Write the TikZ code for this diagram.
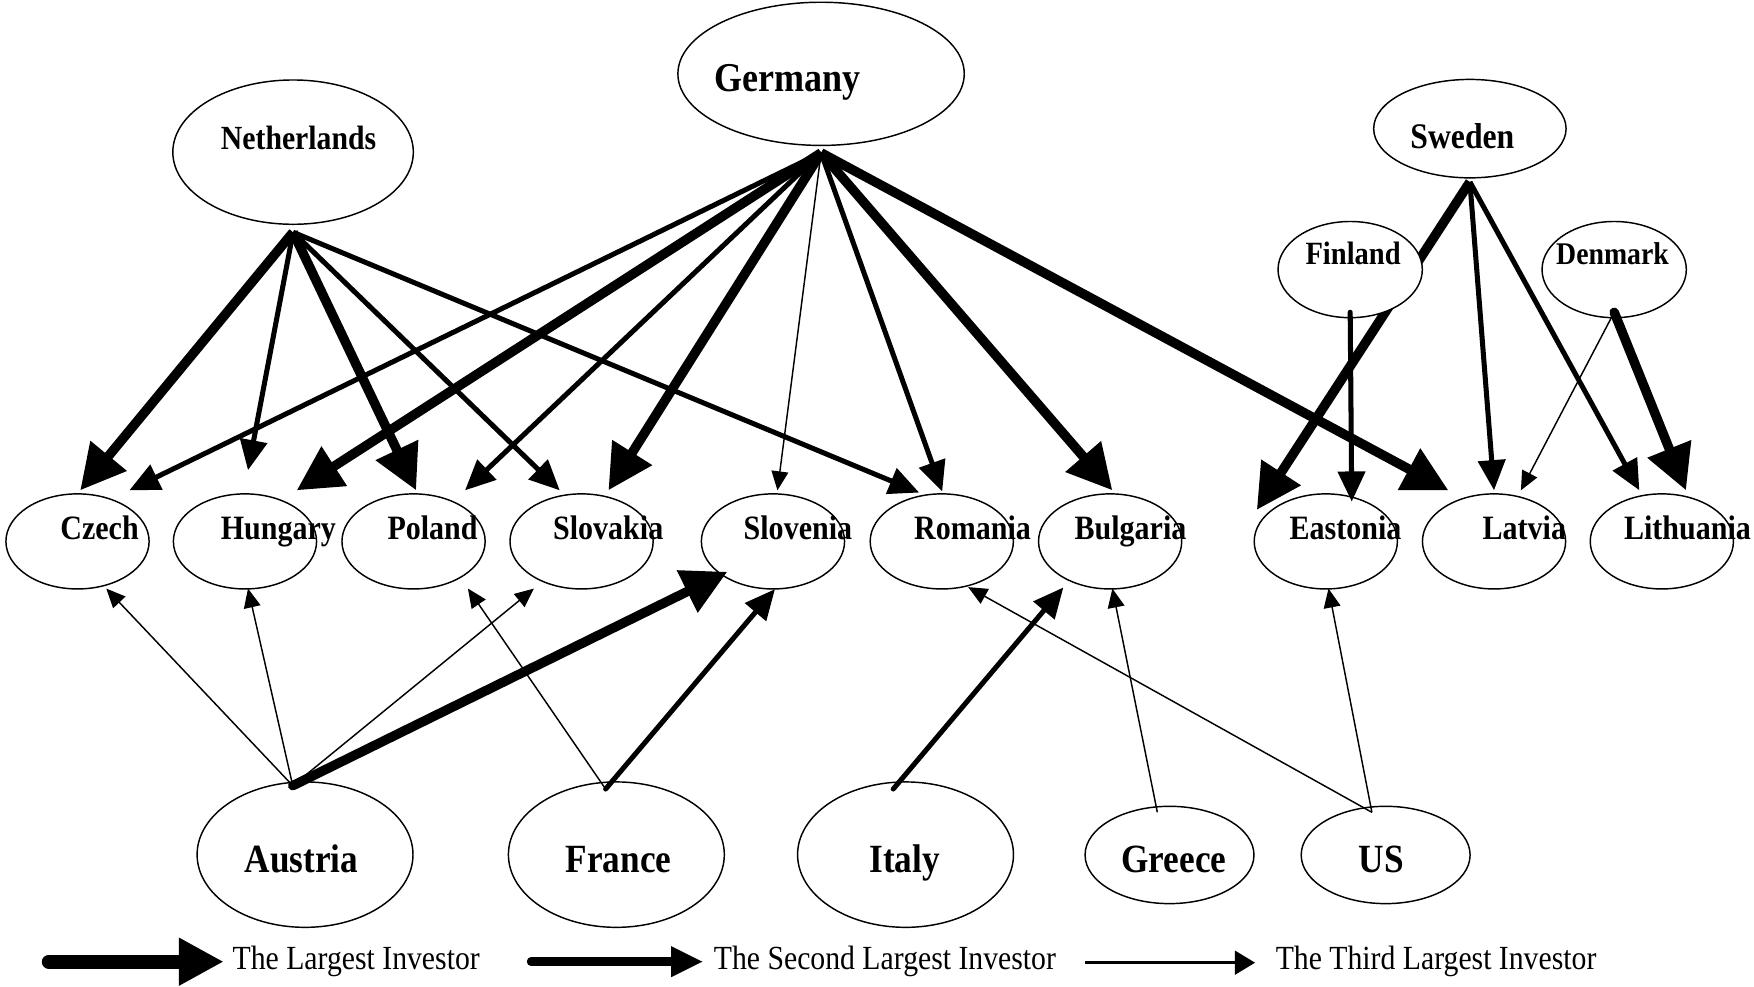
\documentclass[tikz,border=0pt]{standalone}
\usepackage{fontspec}
\setmainfont{Liberation Serif}[FakeStretch=0.88]
\usetikzlibrary{arrows.meta,shapes.geometric}

\tikzset{
  country/.style={draw, ellipse, line width=1.3pt, fill=white, inner sep=0pt},
  topc/.style={country, minimum width=#1},
  midc/.style={country, minimum width=128pt, minimum height=85pt},
  botc/.style={country, minimum width=193pt, minimum height=130pt},
  botsm/.style={country, minimum width=151pt, minimum height=87pt},
  cname/.style={anchor=base, inner sep=0pt, font=\bfseries\fontsize{#1}{#1}\selectfont},
  legtext/.style={anchor=base west, inner sep=0pt, font=\fontsize{30.2}{32}\selectfont},
  inv1/.style={line width=8.5pt, -{Triangle[length=40pt,width=40pt]}},
  inv2/.style={line width=4.5pt, -{Triangle[length=27pt,width=24pt]}},
  inv3/.style={line width=1.3pt, -{Triangle[length=17pt,width=15pt]}},
}

\begin{document}
\begin{tikzpicture}[x=1pt,y=-1pt]
\useasboundingbox (0,0) rectangle (1568,882);

% investor countries, top
\node[country, minimum width=256pt, minimum height=128pt] (ger) at (734,66) {};
\node[country, minimum width=215pt, minimum height=129pt] (neth) at (262,136) {};
\node[country, minimum width=172pt, minimum height=88pt] (swe) at (1314,115) {};
\node[country, minimum width=129pt, minimum height=86pt] (den) at (1443,241) {};

% host countries, middle row
\node[midc] (czech) at (69.3,484) {};
\node[midc] (hun) at (219,484) {};
\node[midc] (pol) at (369.7,484) {};
\node[midc] (slk) at (519.9,484) {};
\node[midc] (sln) at (691,484) {};
\node[midc] (rom) at (841.9,484) {};
\node[midc] (bul) at (992.4,484) {};
\node[midc] (est) at (1185.2,484) {};
\node[midc] (lat) at (1335.6,484) {};
\node[midc] (lit) at (1485.6,484) {};

% investor countries, bottom
\node[botc] (aus) at (272.7,764) {};
\node[botc] (fra) at (551,764) {};
\node[botc] (ita) at (809.5,764) {};
\node[botsm] (gre) at (1045.5,764.3) {};
\node[botsm] (us) at (1238.7,764.3) {};

% Sweden -> Estonia runs behind the Finland ellipse
\coordinate (swep) at ([yshift=-3pt]swe.south);
\draw[inv1] (swep) -- ([xshift=-61.7pt,yshift=-15pt]est.north);

\node[country, minimum width=129pt, minimum height=86pt] (fin) at (1207,241) {};

% connector start points
\coordinate (gerp) at ([yshift=-6pt]ger.south);
\coordinate (nethp) at ([yshift=-6.5pt]neth.south);
\coordinate (finp) at ([yshift=5.5pt]fin.south);
\coordinate (denp) at ([yshift=5.5pt]den.south);
\coordinate (ausp) at ([xshift=-11pt,yshift=-4pt]aus.north);
\coordinate (frap) at ([xshift=-9.6pt,yshift=-7pt]fra.north);
\coordinate (itap) at ([xshift=-11pt,yshift=-7pt]ita.north);
\coordinate (grep) at ([xshift=-10.9pt,yshift=-6pt]gre.north);
\coordinate (usp) at ([xshift=-12.3pt,yshift=-6pt]us.north);

% Netherlands
\draw[inv1] (nethp) -- ([xshift=2.4pt,yshift=2.5pt]czech.north);
\draw[inv2] (nethp) -- ([xshift=2.7pt,yshift=20.5pt]hun.north);
\draw[inv1] (nethp) -- ([xshift=2.3pt,yshift=2.5pt]pol.north);
\draw[inv2] (nethp) -- ([xshift=-19.5pt,yshift=2.5pt]slk.north);
\draw[inv2] (nethp) -- ([xshift=-20.2pt,yshift=0.5pt]rom.north);

% Germany
\draw[inv2] (gerp) -- ([xshift=46.3pt,yshift=2.5pt]czech.north);
\draw[inv1] (gerp) -- ([xshift=46.2pt,yshift=2.5pt]hun.north);
\draw[inv2] (gerp) -- ([xshift=46pt,yshift=2.5pt]pol.north);
\draw[inv1] (gerp) -- ([xshift=24pt,yshift=2.5pt]slk.north);
\draw[inv3] (gerp) -- ([xshift=4pt,yshift=2.5pt]sln.north);
\draw[inv2] (gerp) -- ([xshift=0.4pt,yshift=1.5pt]rom.north);
\draw[inv1] (gerp) -- ([xshift=2pt,yshift=2.5pt]bul.north);
\draw[inv1] (gerp) -- ([xshift=-40.8pt,yshift=2.5pt]lat.north);

% Sweden
\draw[inv2] (swep) -- ([xshift=0pt,yshift=2.5pt]lat.north);
\draw[inv2] (swep) -- ([xshift=-20.1pt,yshift=2.5pt]lit.north);

% Finland, Denmark
\draw[inv2, line cap=round] (finp) -- ([xshift=23.2pt,yshift=-7.6pt]est.north);
\draw[inv1, line cap=round] (denp) -- ([xshift=21.6pt,yshift=2.5pt]lit.north);
\draw[inv3] (denp) -- ([xshift=24pt,yshift=2.5pt]lat.north);

% Austria
\draw[inv3] (ausp) -- ([xshift=25.7pt,yshift=1pt]czech.south);
\draw[inv3] (ausp) -- ([xshift=2.7pt,yshift=1pt]hun.south);
\draw[inv3] (ausp) -- ([xshift=-42.6pt,yshift=1pt]slk.south);
\draw[inv1, line cap=round] (ausp) -- ([xshift=-40.8pt,yshift=16pt]sln.south);

% France, Italy, Greece, US
\draw[inv3] (frap) -- ([xshift=48.6pt,yshift=1pt]pol.south);
\draw[inv2, line cap=round] (frap) -- ([xshift=1.8pt,yshift=0.5pt]sln.south);
\draw[inv2, line cap=round] (itap) -- ([xshift=-41.8pt,yshift=2pt]bul.south);
\draw[inv3] (grep) -- ([xshift=2pt,yshift=1pt]bul.south);
\draw[inv3] (usp) -- ([xshift=23.6pt,yshift=2.3pt]rom.south);
\draw[inv3] (usp) -- ([xshift=2.4pt,yshift=1pt]est.south);

% labels
\node[cname=36.6] (ger-t) at (704.3,82) {Germany};
\node[cname=30.2] (neth-t) at (266.9,133.4) {Netherlands};
\node[cname=32.2] (swe-t) at (1307.3,132.7) {Sweden};
\node[cname=29] (fin-t) at (1209.6,236.7) {Finland};
\node[cname=28.2] (den-t) at (1441.5,236.7) {Denmark};

\node[cname=30.5] (czech-t) at (89,482.4) {Czech};
\node[cname=30.5] (hun-t) at (248.9,482.4) {Hungary};
\node[cname=30.5] (pol-t) at (386.7,482.4) {Poland};
\node[cname=30.5] (slk-t) at (543.7,482.4) {Slovakia};
\node[cname=30.5] (sln-t) at (713.3,482.4) {Slovenia};
\node[cname=30.5] (rom-t) at (869.4,482.4) {Romania};
\node[cname=30.5] (bul-t) at (1010.6,482.4) {Bulgaria};
\node[cname=30.5] (est-t) at (1202.8,482.4) {Eastonia};
\node[cname=30.5] (lat-t) at (1362.7,482.4) {Latvia};
\node[cname=30.5] (lit-t) at (1508.5,482.4) {Lithuania};

\node[cname=35.8] (aus-t) at (269.4,780) {Austria};
\node[cname=35.8] (fra-t) at (553,780) {France};
\node[cname=35.8] (ita-t) at (808.8,780) {Italy};
\node[cname=35.8] (gre-t) at (1049.3,780) {Greece};
\node[cname=35.8] (us-t) at (1234.8,780) {US};

% legend
\coordinate (leg1a) at (43.6,859.7);
\coordinate (leg1b) at (200,859.7);
\coordinate (leg2a) at (474.7,859.7);
\coordinate (leg2b) at (628.7,859.7);
\coordinate (leg3a) at (970,860.6);
\coordinate (leg3b) at (1122,860.6);
\draw[line width=12.5pt, line cap=round, -{Triangle[length=40pt,width=40pt]}] (leg1a) -- (leg1b);
\draw[line width=7.5pt, line cap=round, -{Triangle[length=28.7pt,width=25.4pt]}] (leg2a) -- (leg2b);
\draw[line width=2.7pt, -{Triangle[length=18pt,width=21pt]}] (leg3a) -- (leg3b);
\node[legtext] (leg1-t) at (207.8,866.5) {The Largest Investor};
\node[legtext] (leg2-t) at (638,866.5) {The Second Largest Investor};
\node[legtext] (leg3-t) at (1140.3,866.5) {The Third Largest Investor};
\end{tikzpicture}
\end{document}
